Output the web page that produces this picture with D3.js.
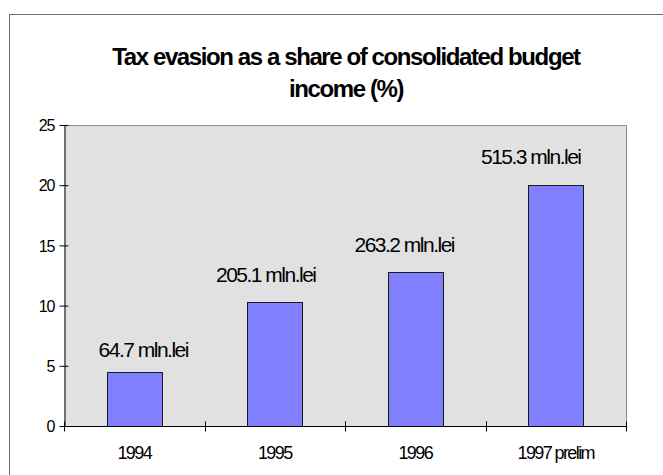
<!DOCTYPE html>
<html>
<head>
<meta charset="utf-8">
<script src="https://cdn.jsdelivr.net/npm/d3@7"></script>
<style>
  html, body { margin: 0; padding: 0; background: #ffffff; }
  svg { display: block; font-family: "Liberation Sans", Arial, sans-serif; }
</style>
</head>
<body>
<svg id="chart" width="663" height="475"></svg>
<script>
// Tax evasion, share of consolidated budget income (%)
const years = ["1994", "1995", "1996", "1997 prelim"];
const sharePct = [4.5, 10.3, 12.8, 20.0];
const amountLabels = ["64.7 mln.lei", "205.1 mln.lei", "263.2 mln.lei", "515.3 mln.lei"];
const yTicks = [0, 5, 10, 15, 20, 25];
const titleLines = ["Tax evasion as a share of consolidated budget", "income (%)"];

// hand placement of the amount labels relative to each bar (px)
const labelDx = [9, -9, -11, -25];
const labelDy = [15, 20, 20, 21];

const svg = d3.select("#chart");
const W = 663, H = 475;
const plot = { left: 64, right: 626, top: 125, bottom: 426 };

// outer chart frame
svg.append("rect")
  .attr("x", 9.5).attr("y", 14.5)
  .attr("width", W + 10).attr("height", H + 10)
  .attr("fill", "#ffffff").attr("stroke", "#6e6e6e").attr("stroke-width", 1);

// title
const title = svg.append("text")
  .attr("text-anchor", "middle")
  .attr("font-weight", "bold")
  .attr("font-size", 24)
  .attr("letter-spacing", -1.4)
  .attr("fill", "#000");
titleLines.forEach((t, i) => {
  title.append("tspan").attr("x", 346).attr("y", 65 + i * 32).text(t);
});

const x = d3.scaleBand().domain(years).range([plot.left, plot.right]).paddingInner(0.61).paddingOuter(0.305);
const xCat = d3.scaleBand().domain(years).range([plot.left, plot.right]);
const y = d3.scaleLinear().domain([0, 25]).range([plot.bottom, plot.top]);

// plot area
svg.append("rect")
  .attr("x", plot.left).attr("y", plot.top)
  .attr("width", plot.right - plot.left).attr("height", plot.bottom - plot.top)
  .attr("fill", "#e1e1e1");
svg.append("path")
  .attr("d", `M${plot.left},${plot.top + 0.5}H${plot.right + 0.5}V${plot.bottom}`)
  .attr("fill", "none").attr("stroke", "#8c8c8c").attr("stroke-width", 1);

// bars
svg.append("g").selectAll("rect")
  .data(sharePct)
  .join("rect")
  .attr("x", (d, i) => Math.round(x(years[i])) + 0.5)
  .attr("y", d => Math.round(y(d)) + 0.5)
  .attr("width", Math.round(x.bandwidth()))
  .attr("height", d => Math.round(y(0)) - Math.round(y(d)))
  .attr("fill", "#8080ff")
  .attr("stroke", "#1a1a1a")
  .attr("stroke-width", 1);

// amount labels above the bars
svg.append("g").selectAll("text")
  .data(sharePct)
  .join("text")
  .attr("x", (d, i) => x(years[i]) + x.bandwidth() / 2 + labelDx[i])
  .attr("y", (d, i) => y(d) - labelDy[i])
  .attr("text-anchor", "middle")
  .attr("font-size", 21)
  .attr("letter-spacing", -1.5)
  .attr("fill", "#000")
  .text((d, i) => amountLabels[i]);

// y axis
const yAxis = d3.axisLeft(y).tickValues(yTicks).tickSize(0).tickFormat(d3.format("d"));
const gy = svg.append("g").attr("transform", `translate(${plot.left + 0.5},0)`).call(yAxis);
gy.select(".domain").attr("stroke", "#000");
gy.selectAll(".tick line").attr("x1", -5).attr("x2", 4).attr("stroke", "#000");
gy.selectAll(".tick text")
  .attr("x", -10).attr("dy", "0.36em")
  .attr("font-family", "Liberation Sans, Arial, sans-serif")
  .attr("font-size", 16).attr("letter-spacing", -1).attr("fill", "#000");

// x axis with tick marks between categories
const gx = svg.append("g").attr("transform", `translate(0,${plot.bottom + 0.5})`);
gx.append("line")
  .attr("x1", plot.left).attr("x2", plot.right + 1)
  .attr("stroke", "#000");
const bounds = years.map(c => xCat(c)).concat([plot.right]);
gx.selectAll("line.sep")
  .data(bounds)
  .join("line")
  .attr("class", "sep")
  .attr("x1", d => Math.round(d) + 0.5).attr("x2", d => Math.round(d) + 0.5)
  .attr("y1", -5).attr("y2", 5)
  .attr("stroke", "#000");
gx.selectAll("text")
  .data(years)
  .join("text")
  .attr("x", d => xCat(d) + xCat.bandwidth() / 2)
  .attr("y", 32)
  .attr("text-anchor", "middle")
  .attr("font-size", 18)
  .attr("letter-spacing", -1.6)
  .attr("fill", "#000")
  .text(d => d);
</script>
</body>
</html>
